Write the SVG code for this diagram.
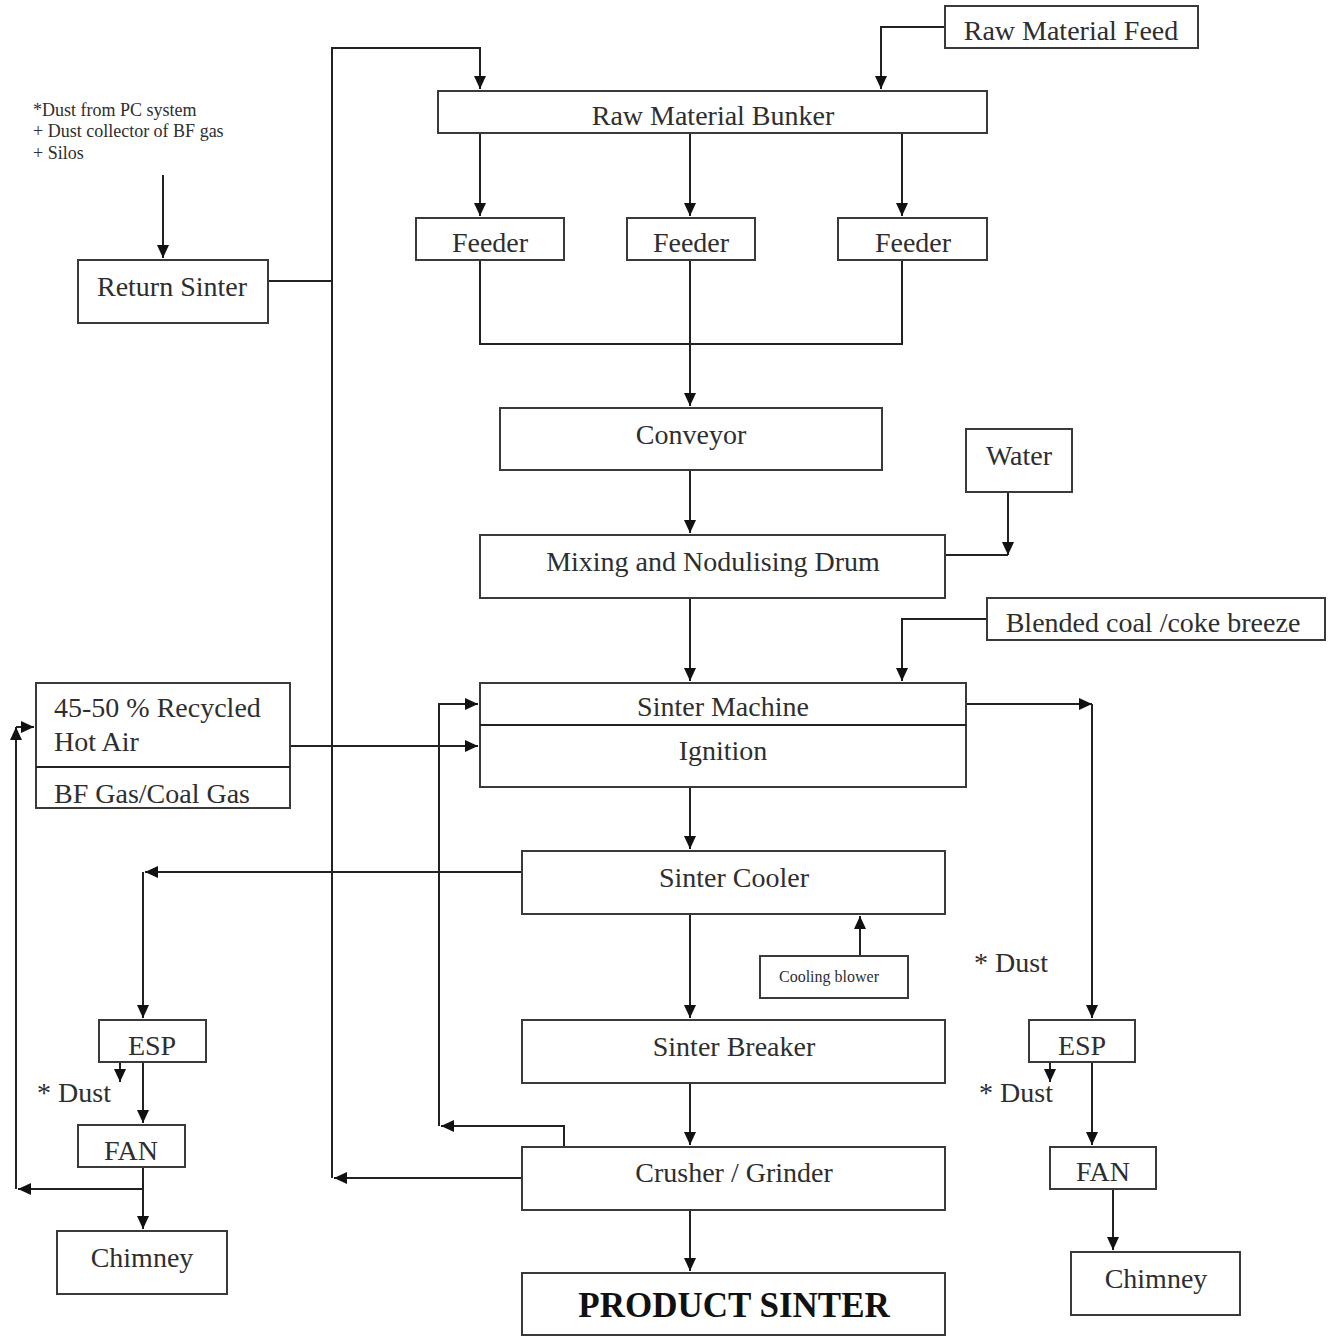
<svg xmlns="http://www.w3.org/2000/svg" width="1332" height="1336" viewBox="0 0 1332 1336">
<style>
.b{fill:#fff;stroke:#3a3a3a;stroke-width:2}
.t{font-family:"Liberation Serif","Times New Roman",serif;font-size:28px;fill:#2e2e2e;text-anchor:middle}
.l{text-anchor:start}
.s{font-size:18px}
.cb{font-size:16px}
.bold{font-weight:bold;font-size:35px;fill:#111}
.c{fill:none;stroke:#222;stroke-width:2}
</style>
<defs>
<marker id="a" markerUnits="userSpaceOnUse" markerWidth="16" markerHeight="14" refX="13" refY="6" orient="auto">
<path d="M0,0 L13,6 L0,12 z" fill="#111"/>
</marker>
</defs>
<rect width="1332" height="1336" fill="#fff"/>

<g id="connectors">
<path class="c" d="M945,27 H881 V89" marker-end="url(#a)"/>
<path class="c" d="M522,1178 H334" marker-end="url(#a)"/>
<path class="c" d="M332,1178 V48 H480 V89" marker-end="url(#a)"/>
<path class="c" d="M268,281 H332"/>
<path class="c" d="M163,175 V258" marker-end="url(#a)"/>
<path class="c" d="M480,133 V216" marker-end="url(#a)"/>
<path class="c" d="M690,133 V216" marker-end="url(#a)"/>
<path class="c" d="M902,133 V216" marker-end="url(#a)"/>
<path class="c" d="M480,260 V344 H902 V260"/>
<path class="c" d="M690,260 V406" marker-end="url(#a)"/>
<path class="c" d="M690,470 V533" marker-end="url(#a)"/>
<path class="c" d="M945,555 H1008"/>
<path class="c" d="M1008,492 V555" marker-end="url(#a)"/>
<path class="c" d="M690,598 V681" marker-end="url(#a)"/>
<path class="c" d="M987,619 H902 V681" marker-end="url(#a)"/>
<path class="c" d="M966,704 H1092" marker-end="url(#a)"/>
<path class="c" d="M1092,704 V1018" marker-end="url(#a)"/>
<path class="c" d="M290,746 H478" marker-end="url(#a)"/>
<path class="c" d="M564,1147 V1126 H441" marker-end="url(#a)"/>
<path class="c" d="M439,1126 V704 H478" marker-end="url(#a)"/>
<path class="c" d="M690,787 V849" marker-end="url(#a)"/>
<path class="c" d="M522,872 H145" marker-end="url(#a)"/>
<path class="c" d="M143,872 V1018" marker-end="url(#a)"/>
<path class="c" d="M143,1062 V1123" marker-end="url(#a)"/>
<path class="c" d="M120,1062 V1082" marker-end="url(#a)"/>
<path class="c" d="M143,1167 V1229" marker-end="url(#a)"/>
<path class="c" d="M143,1189 H18" marker-end="url(#a)"/>
<path class="c" d="M16,1189 V727" marker-end="url(#a)"/>
<path class="c" d="M16,727 H34" marker-end="url(#a)"/>
<path class="c" d="M690,914 V1018" marker-end="url(#a)"/>
<path class="c" d="M690,1083 V1145" marker-end="url(#a)"/>
<path class="c" d="M690,1210 V1271" marker-end="url(#a)"/>
<path class="c" d="M860,956 V916" marker-end="url(#a)"/>
<path class="c" d="M1092,1062 V1145" marker-end="url(#a)"/>
<path class="c" d="M1050,1062 V1082" marker-end="url(#a)"/>
<path class="c" d="M1113,1189 V1250" marker-end="url(#a)"/>
</g>

<g id="raw-material-feed"><rect class="b" x="945" y="6" width="253" height="42"/><text class="t" x="1071" y="40">Raw Material Feed</text></g>
<g id="raw-material-bunker"><rect class="b" x="438" y="91" width="549" height="42"/><text class="t" x="713" y="125">Raw Material Bunker</text></g>
<g id="feeder-1"><rect class="b" x="416" y="218" width="148" height="42"/><text class="t" x="490" y="252">Feeder</text></g>
<g id="feeder-2"><rect class="b" x="627" y="218" width="128" height="42"/><text class="t" x="691" y="252">Feeder</text></g>
<g id="feeder-3"><rect class="b" x="838" y="218" width="149" height="42"/><text class="t" x="913" y="252">Feeder</text></g>
<g id="dust-note"><text class="t l s" x="33" y="116">*Dust from PC system</text><text class="t l s" x="33" y="137">+ Dust collector of BF gas</text><text class="t l s" x="33" y="159">+ Silos</text></g>
<g id="return-sinter"><rect class="b" x="78" y="260" width="190" height="63"/><text class="t" x="172" y="296">Return Sinter</text></g>
<g id="conveyor"><rect class="b" x="500" y="408" width="382" height="62"/><text class="t" x="691" y="444">Conveyor</text></g>
<g id="water"><rect class="b" x="966" y="429" width="106" height="63"/><text class="t" x="1019" y="465">Water</text></g>
<g id="mixing-drum"><rect class="b" x="480" y="535" width="465" height="63"/><text class="t" x="713" y="571">Mixing and Nodulising Drum</text></g>
<g id="blended-coal"><rect class="b" x="987" y="598" width="338" height="42"/><text class="t" x="1153" y="632">Blended coal /coke breeze</text></g>
<g id="sinter-machine"><rect class="b" x="480" y="683" width="486" height="104"/><line class="c" x1="480" y1="725" x2="966" y2="725"/><text class="t" x="723" y="716">Sinter Machine</text><text class="t" x="723" y="760">Ignition</text></g>
<g id="hot-air"><rect class="b" x="36" y="683" width="254" height="125"/><line class="c" x1="36" y1="767" x2="290" y2="767"/><text class="t l" x="54" y="717">45-50 % Recycled</text><text class="t l" x="54" y="751">Hot Air</text><text class="t l" x="54" y="803">BF Gas/Coal Gas</text></g>
<g id="sinter-cooler"><rect class="b" x="522" y="851" width="423" height="63"/><text class="t" x="734" y="887">Sinter Cooler</text></g>
<g id="cooling-blower"><rect class="b" x="760" y="956" width="148" height="42"/><text class="t cb" x="829" y="982">Cooling blower</text></g>
<g id="dust-label-1"><text class="t" x="1011" y="972">* Dust</text></g>
<g id="sinter-breaker"><rect class="b" x="522" y="1020" width="423" height="63"/><text class="t" x="734" y="1056">Sinter Breaker</text></g>
<g id="crusher"><rect class="b" x="522" y="1147" width="423" height="63"/><text class="t" x="734" y="1182">Crusher / Grinder</text></g>
<g id="product-sinter"><rect class="b" x="522" y="1273" width="423" height="62"/><text class="t bold" x="734" y="1317">PRODUCT SINTER</text></g>
<g id="esp-left"><rect class="b" x="99" y="1020" width="107" height="42"/><text class="t" x="152" y="1055">ESP</text></g>
<g id="dust-left"><text class="t" x="74" y="1102">* Dust</text></g>
<g id="fan-left"><rect class="b" x="78" y="1125" width="107" height="42"/><text class="t" x="131" y="1160">FAN</text></g>
<g id="chimney-left"><rect class="b" x="57" y="1231" width="170" height="63"/><text class="t" x="142" y="1267">Chimney</text></g>
<g id="esp-right"><rect class="b" x="1029" y="1020" width="106" height="42"/><text class="t" x="1082" y="1055">ESP</text></g>
<g id="dust-right"><text class="t" x="1016" y="1102">* Dust</text></g>
<g id="fan-right"><rect class="b" x="1050" y="1147" width="106" height="42"/><text class="t" x="1103" y="1181">FAN</text></g>
<g id="chimney-right"><rect class="b" x="1071" y="1252" width="169" height="63"/><text class="t" x="1156" y="1288">Chimney</text></g>
</svg>
